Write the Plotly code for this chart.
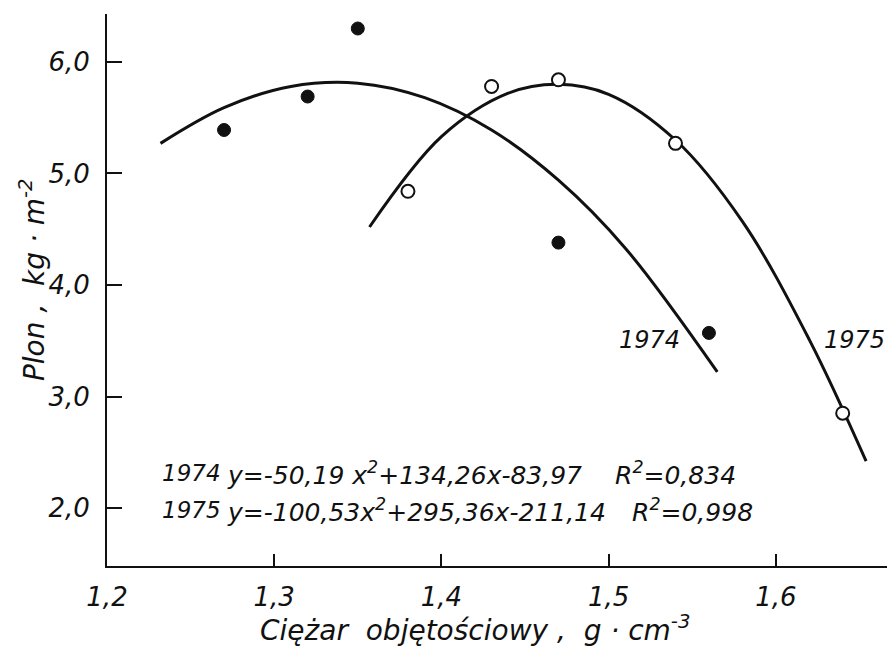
import plotly.graph_objects as go

x_1974 = [1.27, 1.32, 1.35, 1.47, 1.56]
y_1974 = [5.39, 5.69, 6.30, 4.38, 3.57]
x_1975 = [1.38, 1.43, 1.47, 1.54, 1.64]
y_1975 = [4.84, 5.78, 5.84, 5.27, 2.85]

# Fitted curves
fit_x_1974 = [1.232, 1.27, 1.31, 1.35, 1.39, 1.43, 1.47, 1.51, 1.565]
fit_y_1974 = [5.27, 5.59, 5.78, 5.81, 5.68, 5.39, 4.94, 4.33, 3.22]
fit_x_1975 = [1.357, 1.40, 1.44, 1.47, 1.50, 1.54, 1.58, 1.62, 1.654]
fit_y_1975 = [4.52, 5.33, 5.72, 5.80, 5.71, 5.30, 4.57, 3.51, 2.42]

x_ticks = [1.2, 1.3, 1.4, 1.5, 1.6]
x_tick_labels = ["1,2", "1,3", "1,4", "1,5", "1,6"]
y_ticks = [2.0, 3.0, 4.0, 5.0, 6.0]
y_tick_labels = ["2,0", "3,0", "4,0", "5,0", "6,0"]

eq_years = ["1974", "1975"]
eq_texts = ["y=-50,19 x<sup>2</sup>+134,26x-83,97",
            "y=-100,53x<sup>2</sup>+295,36x-211,14"]
eq_r2 = ["R<sup>2</sup>=0,834", "R<sup>2</sup>=0,998"]

FONT = "DejaVu Sans"
BLACK = "#111111"

fig = go.Figure()
fig.add_trace(go.Scatter(x=fit_x_1974, y=fit_y_1974, mode="lines",
                         line=dict(color=BLACK, width=3, shape="spline"), hoverinfo="skip"))
fig.add_trace(go.Scatter(x=fit_x_1975, y=fit_y_1975, mode="lines",
                         line=dict(color=BLACK, width=3, shape="spline"), hoverinfo="skip"))
fig.add_trace(go.Scatter(x=x_1974, y=y_1974, mode="markers",
                         marker=dict(color=BLACK, size=13, line=dict(color=BLACK, width=1))))
fig.add_trace(go.Scatter(x=x_1975, y=y_1975, mode="markers",
                         marker=dict(color="white", size=13, line=dict(color=BLACK, width=2))))

tickfont = dict(family=FONT, size=26, color=BLACK, style="italic")
fig.update_layout(
    width=887, height=647,
    margin=dict(l=107, r=0, t=14, b=81),
    plot_bgcolor="white", paper_bgcolor="white",
    showlegend=False,
    font=dict(family=FONT, color=BLACK),
    xaxis=dict(range=[1.2, 1.6665], showline=True, linecolor=BLACK, linewidth=2,
               ticks="inside", ticklen=12, tickwidth=2, tickcolor=BLACK,
               tickvals=x_ticks, ticktext=x_tick_labels, tickfont=tickfont,
               showgrid=False, zeroline=False, ticklabelstandoff=7, automargin=False),
    yaxis=dict(range=[1.48, 6.43], showline=True, linecolor=BLACK, linewidth=2,
               ticks="inside", ticklen=15, tickwidth=2, tickcolor=BLACK,
               tickvals=y_ticks, ticktext=y_tick_labels, tickfont=tickfont,
               showgrid=False, zeroline=False, ticklabelstandoff=10, automargin=False),
)

year_font = dict(family=FONT, size=23, color=BLACK, style="italic")
ann_font = dict(family=FONT, size=25, color=BLACK, style="italic")
rows_y = [2.31, 1.98]
for i in range(2):
    fig.add_annotation(x=1.2317, y=rows_y[i], text=eq_years[i], showarrow=False,
                       xanchor="left", yanchor="middle", font=year_font)
    fig.add_annotation(x=1.2707, y=rows_y[i], text=eq_texts[i], showarrow=False,
                       xanchor="left", yanchor="middle", font=ann_font)
    fig.add_annotation(x=[1.5024, 1.5126][i], y=rows_y[i], text=eq_r2[i], showarrow=False,
                       xanchor="left", yanchor="middle", font=ann_font)

label_font = dict(family=FONT, size=24, color=BLACK, style="italic")
fig.add_annotation(x=1.5246, y=3.51, text="1974", showarrow=False, font=label_font)
fig.add_annotation(x=1.6473, y=3.51, text="1975", showarrow=False, font=label_font)

fig.add_annotation(xref="paper", yref="paper", x=0, y=0.518, xshift=-75,
                   xanchor="center", yanchor="middle",
                   text="Plon ,  kg · m<sup>-2</sup>", textangle=-90, showarrow=False,
                   font=dict(family=FONT, size=28, color=BLACK, style="italic"))
fig.add_annotation(xref="paper", yref="paper", x=0.4717, y=0, yshift=-62,
                   xanchor="center", yanchor="middle",
                   text="Ciężar  objętościowy ,  g · cm<sup>-3</sup>", showarrow=False,
                   font=dict(family=FONT, size=28, color=BLACK, style="italic"))

fig.write_html("out.html", config={"displayModeBar": False},
               post_script="document.body.style.margin='0px';document.body.style.overflow='hidden';")
